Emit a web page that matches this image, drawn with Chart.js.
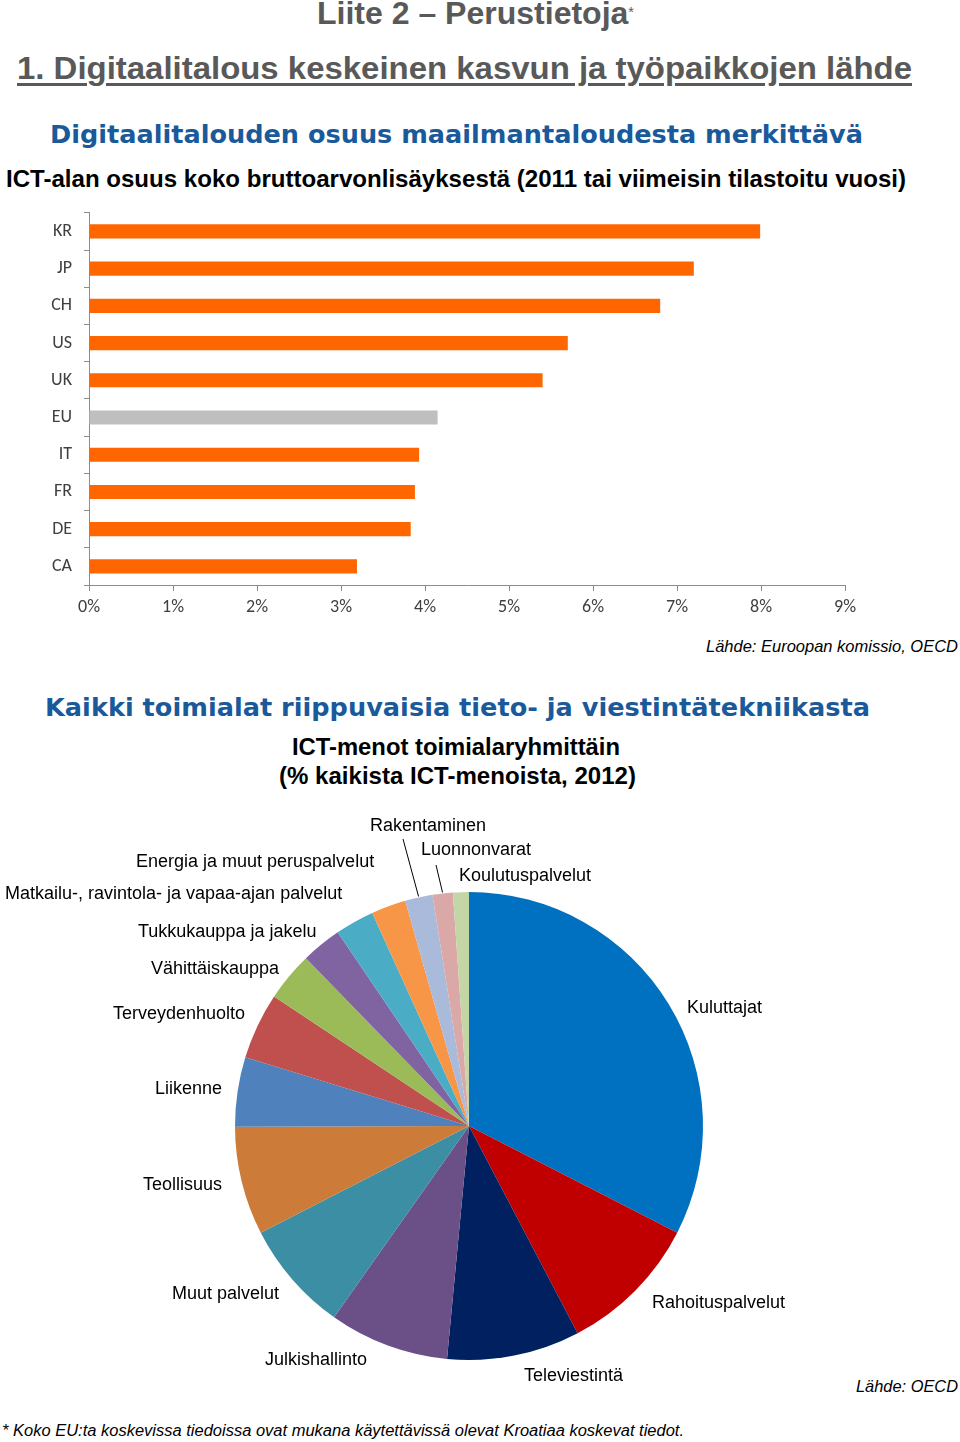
<!DOCTYPE html>
<html lang="fi">
<head>
<meta charset="utf-8">
<title>Liite 2 – Perustietoja</title>
<script src="https://cdn.jsdelivr.net/npm/chart.js@4.4.1/dist/chart.umd.min.js"></script>
<style>
  html, body { margin: 0; padding: 0; background: #fff; }
  #page { position: relative; width: 960px; height: 1442px; overflow: hidden; }
  .txt { position: absolute; white-space: nowrap; display: inline-block; transform-origin: left center; }
  .narrow { font-family: "Liberation Sans Narrow", "Arial Narrow", "Liberation Sans", Arial, sans-serif; font-weight: bold; }
  .verd { font-family: "DejaVu Sans", Verdana, sans-serif; font-weight: bold; color: #1a5a9b; }
  .src { font-family: "Liberation Sans", Arial, sans-serif; font-style: italic; color: #000; }
  canvas { position: absolute; left: 0; }
</style>
</head>
<body>
<div id="page">
  <div class="txt narrow" data-w="317" style="left:317px; top:-3px; font-size:31px; line-height:34px; color:#595959;">Liite 2 – Perustietoja<span style="font-size:14px; font-weight:normal; vertical-align:top; position:relative; top:-2px;">*</span></div>
  <div class="txt narrow" data-w="895" style="left:17px; top:52px; font-size:31px; line-height:34px; color:#595959; text-decoration:underline; text-underline-offset:4px;">1. Digitaalitalous keskeinen kasvun ja työpaikkojen lähde</div>
  <div class="txt verd" data-w="813" style="left:50px; top:120px; font-size:25px; line-height:30px;">Digitaalitalouden osuus maailmantaloudesta merkittävä</div>
  <div class="txt narrow" data-w="900" style="left:6px; top:165px; font-size:24px; line-height:28px; color:#000;">ICT-alan osuus koko bruttoarvonlisäyksestä (2011 tai viimeisin tilastoitu vuosi)</div>
  <div class="txt src" data-w="252" style="left:706px; top:637px; font-size:17px; line-height:20px;">Lähde: Euroopan komissio, OECD</div>
  <div class="txt verd" data-w="825" style="left:45px; top:693px; font-size:25px; line-height:30px;">Kaikki toimialat riippuvaisia tieto- ja viestintätekniikasta</div>
  <div class="txt narrow" data-w="328" style="left:292px; top:733px; font-size:24px; line-height:28px; color:#000;">ICT-menot toimialaryhmittäin</div>
  <div class="txt narrow" data-w="357" style="left:279px; top:762px; font-size:24px; line-height:28px; color:#000;">(% kaikista ICT-menoista, 2012)</div>
  <div class="txt src" data-w="102" style="left:856px; top:1377px; font-size:17px; line-height:20px;">Lähde: OECD</div>
  <div class="txt src" data-w="682" style="left:2px; top:1421px; font-size:16px; line-height:20px;">* Koko EU:ta koskevissa tiedoissa ovat mukana käytettävissä olevat Kroatiaa koskevat tiedot.</div>

  <canvas id="barChart" width="960" height="450" style="top:190px;"></canvas>
  <canvas id="pieChart" width="960" height="600" style="top:800px;"></canvas>
</div>

<script>
// --- Bar chart data: ICT share of gross value added, %
const countries = ['KR', 'JP', 'CH', 'US', 'UK', 'EU', 'IT', 'FR', 'DE', 'CA'];
const ictShare = [7.99, 7.2, 6.8, 5.7, 5.4, 4.15, 3.93, 3.88, 3.83, 3.19];
const xTickValues = [0, 1, 2, 3, 4, 5, 6, 7, 8, 9];

// --- Pie chart data: ICT spending by sector, % (2012)
const sectors = [
  'Kuluttajat', 'Rahoituspalvelut', 'Televiestintä', 'Julkishallinto', 'Muut palvelut',
  'Teollisuus', 'Liikenne', 'Terveydenhuolto', 'Vähittäiskauppa', 'Tukkukauppa ja jakelu',
  'Matkailu-, ravintola- ja vapaa-ajan palvelut', 'Energia ja muut peruspalvelut',
  'Rakentaminen', 'Luonnonvarat', 'Koulutuspalvelut'
];
const ictSpend = [32.6, 9.8, 9.2, 8.3, 7.7, 7.5, 4.8, 4.6, 3.4, 2.8, 2.7, 2.4, 1.9, 1.4, 1.1];

// styles
const orange = '#ff6600';
const euGray = '#bfbfbf';
const axisGray = '#8c8c8c';
const sectorColors = [
  '#0070c0', '#c00000', '#002060', '#6a5087', '#3c8ea4',
  '#cc7b38', '#4f81bd', '#c0504d', '#9bbb59', '#8064a2',
  '#4bacc6', '#f79646', '#a9badb', '#dba8a8', '#c4d6a6'
];

// label placement for the pie (page coords: left x, centre y)
const pieTop = 800;
const labelPos = [
  [687, 1008], [652, 1303], [524, 1376], [265, 1360], [172, 1294],
  [143, 1185], [155, 1089], [113, 1014], [151, 969], [138, 932],
  [5, 894], [136, 862], [370, 826], [421, 850], [459, 876]
];
// leader line starts for the small slices (others have none)
const leaders = { 12: [403, 839], 13: [436, 865] };

// fit headings to their measured widths
document.querySelectorAll('.txt[data-w]').forEach(el => {
  const w = el.getBoundingClientRect().width;
  const target = +el.dataset.w;
  if (w > 0) el.style.transform = 'scaleX(' + (target / w) + ')';
});

const tickFont = { family: 'Carlito, Lato, "Open Sans", sans-serif', size: 18 };

new Chart(document.getElementById('barChart'), {
  type: 'bar',
  data: {
    labels: countries,
    datasets: [{
      data: ictShare,
      backgroundColor: countries.map(c => c === 'EU' ? euGray : orange),
      barPercentage: 0.38,
      categoryPercentage: 1,
    }]
  },
  options: {
    indexAxis: 'y',
    responsive: false,
    animation: false,
    layout: { padding: { top: 2, right: 115, left: 0, bottom: 0 } },
    plugins: { legend: { display: false }, tooltip: { enabled: false } },
    scales: {
      x: {
        min: 0,
        max: 9,
        afterBuildTicks: s => { s.ticks = xTickValues.map(v => ({ value: v })); },
        ticks: { callback: v => v + '%', padding: 6, color: '#404040', font: tickFont, maxRotation: 0 },
        grid: { drawOnChartArea: false, tickLength: 6, color: axisGray },
        border: { color: axisGray },
        afterFit: s => { s.height = 55; }
      },
      y: {
        ticks: { padding: 12, color: '#404040', font: tickFont },
        grid: { offset: true, drawOnChartArea: false, tickLength: 5, color: axisGray },
        border: { color: axisGray },
        afterFit: s => { s.width = 89; }
      }
    }
  }
});

const pieLabels = {
  id: 'pieLabels',
  afterDraw(chart) {
    const ctx = chart.ctx;
    const arcs = chart.getDatasetMeta(0).data;
    ctx.save();
    ctx.font = '18px "Liberation Sans", Arial, sans-serif';
    ctx.fillStyle = '#000';
    ctx.textAlign = 'left';
    ctx.textBaseline = 'middle';
    sectors.forEach((name, i) => {
      const [x, y] = labelPos[i];
      ctx.fillText(name, x, y - pieTop);
      if (leaders[i]) {
        const a = arcs[i];
        const mid = (a.startAngle + a.endAngle) / 2;
        const r = a.outerRadius + 1;
        ctx.beginPath();
        ctx.strokeStyle = '#000';
        ctx.lineWidth = 1;
        ctx.moveTo(leaders[i][0], leaders[i][1] - pieTop);
        ctx.lineTo(a.x + Math.cos(mid) * r, a.y + Math.sin(mid) * r);
        ctx.stroke();
      }
    });
    ctx.restore();
  }
};

new Chart(document.getElementById('pieChart'), {
  type: 'pie',
  data: {
    labels: sectors,
    datasets: [{ data: ictSpend, backgroundColor: sectorColors, borderWidth: 0 }]
  },
  options: {
    responsive: false,
    animation: false,
    layout: { padding: { left: 235, right: 257, top: 92, bottom: 40 } },
    plugins: { legend: { display: false }, tooltip: { enabled: false } }
  },
  plugins: [pieLabels]
});
</script>
</body>
</html>
